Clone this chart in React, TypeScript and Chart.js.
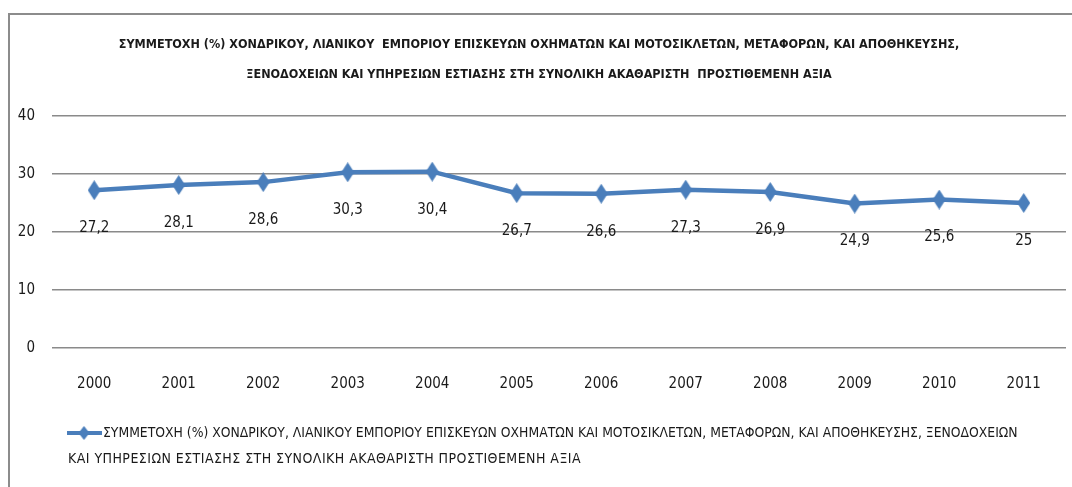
import React, { useEffect, useRef } from 'react';
import { Chart, registerables } from 'chart.js';

Chart.register(...registerables);

const years = ['2000', '2001', '2002', '2003', '2004', '2005', '2006', '2007', '2008', '2009', '2010', '2011'];
const shares = [27.2, 28.1, 28.6, 30.3, 30.4, 26.7, 26.6, 27.3, 26.9, 24.9, 25.6, 25];
const yTicks = [0, 10, 20, 30, 40];
const titleLines = [
  'ΣΥΜΜΕΤΟΧΗ (%) ΧΟΝΔΡΙΚΟΥ, ΛΙΑΝΙΚΟΥ  ΕΜΠΟΡΙΟΥ ΕΠΙΣΚΕΥΩΝ ΟΧΗΜΑΤΩΝ ΚΑΙ ΜΟΤΟΣΙΚΛΕΤΩΝ, ΜΕΤΑΦΟΡΩΝ, ΚΑΙ ΑΠΟΘΗΚΕΥΣΗΣ,',
  'ΞΕΝΟΔΟΧΕΙΩΝ ΚΑΙ ΥΠΗΡΕΣΙΩΝ ΕΣΤΙΑΣΗΣ ΣΤΗ ΣΥΝΟΛΙΚΗ ΑΚΑΘΑΡΙΣΤΗ  ΠΡΟΣΤΙΘΕΜΕΝΗ ΑΞΙΑ',
];
const legendLines = [
  'ΣΥΜΜΕΤΟΧΗ (%) ΧΟΝΔΡΙΚΟΥ, ΛΙΑΝΙΚΟΥ ΕΜΠΟΡΙΟΥ ΕΠΙΣΚΕΥΩΝ ΟΧΗΜΑΤΩΝ ΚΑΙ ΜΟΤΟΣΙΚΛΕΤΩΝ, ΜΕΤΑΦΟΡΩΝ, ΚΑΙ ΑΠΟΘΗΚΕΥΣΗΣ, ΞΕΝΟΔΟΧΕΙΩΝ',
  'ΚΑΙ ΥΠΗΡΕΣΙΩΝ ΕΣΤΙΑΣΗΣ ΣΤΗ ΣΥΝΟΛΙΚΗ ΑΚΑΘΑΡΙΣΤΗ ΠΡΟΣΤΙΘΕΜΕΝΗ ΑΞΙΑ',
];

const FONT = "'DejaVu Sans Condensed', 'Liberation Sans Narrow', 'DejaVu Sans', sans-serif";
const BLUE = '#4A7EBB';
const GRID = '#8a8a8a';
const TEXT = '#1a1a1a';

function makeDiamond(w: number, h: number, color: string) {
  const c = document.createElement('canvas');
  c.width = w;
  c.height = h;
  const g = c.getContext('2d')!;
  g.fillStyle = color;
  g.beginPath();
  g.moveTo(w / 2, 0);
  g.lineTo(w, h / 2);
  g.lineTo(w / 2, h);
  g.lineTo(0, h / 2);
  g.closePath();
  g.fill();
  return c;
}

const fmt = (v: number) => String(v).replace('.', ',');

export default function App() {
  const ref = useRef<HTMLCanvasElement>(null);

  useEffect(() => {
    if (!ref.current) return;
    const diamond = makeDiamond(13, 20, BLUE);

    const framePlugin = {
      id: 'frame',
      beforeDraw(chart: any) {
        const ctx = chart.ctx;
        ctx.save();
        ctx.fillStyle = '#ffffff';
        ctx.fillRect(0, 0, chart.width, chart.height);
        ctx.strokeStyle = '#8c8c8c';
        ctx.lineWidth = 2;
        ctx.beginPath();
        ctx.moveTo(9, chart.height + 5);
        ctx.lineTo(9, 14);
        ctx.lineTo(chart.width + 5, 14);
        ctx.stroke();
        ctx.restore();
      },
    };

    const labelPlugin = {
      id: 'valueLabels',
      afterDatasetsDraw(chart: any) {
        const ctx = chart.ctx;
        const meta = chart.getDatasetMeta(0);
        ctx.save();
        ctx.font = `15px ${FONT}`;
        ctx.fillStyle = TEXT;
        ctx.textAlign = 'center';
        ctx.textBaseline = 'middle';
        meta.data.forEach((pt: any, i: number) => {
          ctx.fillText(fmt(shares[i]), pt.x, pt.y + 38);
        });
        ctx.restore();
      },
    };

    const legendPlugin = {
      id: 'customLegend',
      afterDraw(chart: any) {
        const ctx = chart.ctx;
        const y1 = chart.chartArea.bottom + 85;
        const y2 = y1 + 26;
        ctx.save();
        ctx.strokeStyle = BLUE;
        ctx.lineWidth = 4;
        ctx.beginPath();
        ctx.moveTo(67, y1);
        ctx.lineTo(102, y1);
        ctx.stroke();
        ctx.drawImage(makeDiamond(11, 14, BLUE), 84 - 5.5, y1 - 7);
        ctx.fillStyle = TEXT;
        ctx.textAlign = 'left';
        ctx.textBaseline = 'middle';
        ctx.font = `13.8px ${FONT}`;
        ctx.fillText(legendLines[0], 103, y1);
        ctx.font = `14px ${FONT}`;
        try {
          (ctx as any).letterSpacing = '0.45px';
        } catch (e) {}
        ctx.fillText(legendLines[1], 68, y2);
        ctx.restore();
      },
    };

    const chart = new Chart(ref.current, {
      type: 'line',
      data: {
        labels: years,
        datasets: [
          {
            label: legendLines.join(' '),
            data: shares,
            borderColor: BLUE,
            backgroundColor: BLUE,
            borderWidth: 4.5,
            pointStyle: diamond as any,
            pointRadius: 1,
            pointHoverRadius: 0,
            pointBorderWidth: 0,
            pointHitRadius: 0,
            tension: 0,
          },
        ],
      },
      options: {
        responsive: false,
        animation: false,
        events: [],
        layout: { padding: { top: 14, left: 12, right: 6, bottom: 79 } },
        plugins: {
          legend: { display: false },
          tooltip: { enabled: false },
          title: {
            display: true,
            text: titleLines,
            color: TEXT,
            font: { family: FONT, size: 12.5, weight: 'bold', lineHeight: 30 / 12.5 },
            padding: { top: 16, bottom: 26 },
          },
        },
        scales: {
          x: {
            offset: true,
            grid: { display: false },
            border: { display: false },
            ticks: { color: TEXT, font: { family: FONT, size: 15 }, padding: 19, maxRotation: 0 },
            afterFit: (s: any) => {
              s.height = 60;
            },
          },
          y: {
            min: yTicks[0],
            max: yTicks[yTicks.length - 1],
            grid: { color: GRID, lineWidth: 1.6, drawTicks: false },
            border: { display: false },
            ticks: { stepSize: yTicks[1] - yTicks[0], color: TEXT, font: { family: FONT, size: 15 }, padding: 17 },
            afterFit: (s: any) => {
              s.width = 40;
            },
          },
        },
      },
      plugins: [framePlugin, labelPlugin, legendPlugin],
    });
    return () => chart.destroy();
  }, []);

  return (
    <div style={{ position: 'fixed', left: 0, top: 0, width: 1072, height: 487, background: '#fff' }}>
      <canvas ref={ref} width={1072} height={487} style={{ width: 1072, height: 487, display: 'block' }} />
    </div>
  );
}
